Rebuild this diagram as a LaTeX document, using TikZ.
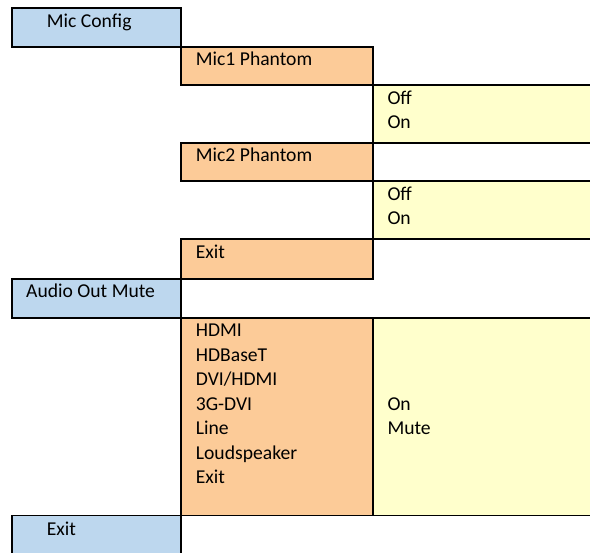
\documentclass[tikz,border=0pt]{standalone}
\usepackage{fontspec}
\setmainfont{Carlito}
\definecolor{menublue}{HTML}{BDD7EE}
\definecolor{menuorange}{HTML}{FCCB98}
\definecolor{menuyellow}{HTML}{FFFFCC}
\begin{document}
\begin{tikzpicture}[x=1bp,y=-1bp,
  box/.style={draw=black,line width=1.8bp},
  lbl/.style={anchor=base west,inner sep=0pt,font=\fontsize{19.7}{24.4}\selectfont},
  lst/.style={lbl,align=left,anchor=north west}]
\useasboundingbox (0,0) rectangle (590,553);
\clip (0,0) rectangle (590,553);
% blue level
\path[box,fill=menublue] (12,8) rectangle (181,46.7);
\path[box,fill=menublue] (12,278.7) rectangle (181,317.7);
\path[box,fill=menublue] (12,515.5) rectangle (181,600);
% orange level
\path[box,fill=menuorange] (181,46.7) rectangle (372.7,85);
\path[box,fill=menuorange] (181,142.7) rectangle (372.7,181);
\path[box,fill=menuorange] (181,239) rectangle (372.7,278.7);
\path[box,fill=menuorange] (181,317.7) rectangle (372.7,515.5);
% yellow level
\path[box,fill=menuyellow] (372.7,85) rectangle (610,142.7);
\path[box,fill=menuyellow] (372.7,181) rectangle (610,239);
\path[box,fill=menuyellow] (372.7,317.7) rectangle (610,515.5);
% labels
\node[lbl] (micconfig) at (46.7,28) {Mic Config};
\node[lbl] (mic1) at (195.7,66) {Mic1 Phantom};
\node[lbl] (off1) at (387.3,105) {Off};
\node[lbl] (on1) at (387.3,128.5) {On};
\node[lbl] (mic2) at (195.7,162) {Mic2 Phantom};
\node[lbl] (off2) at (387.3,201) {Off};
\node[lbl] (on2) at (387.3,224.6) {On};
\node[lbl] (exitmic) at (195.7,258.3) {Exit};
\node[lbl] (audio) at (26,297.3) {Audio Out Mute};
\node[lbl] (hdmi) at (195.7,336.7) {HDMI};
\node[lbl] (hdbaset) at (195.7,361.1) {HDBaseT};
\node[lbl] (dvihdmi) at (195.7,385.5) {DVI/HDMI};
\node[lbl] (gdvi) at (195.7,410) {3G-DVI};
\node[lbl] (line) at (195.7,434.7) {Line};
\node[lbl] (loud) at (195.7,459.1) {Loudspeaker};
\node[lbl] (exitaudio) at (195.7,483.3) {Exit};
\node[lbl] (onaudio) at (387.3,410) {On};
\node[lbl] (mute) at (387.3,434.7) {Mute};
\node[lbl] (exitmain) at (46.7,535) {Exit};
\end{tikzpicture}
\end{document}
